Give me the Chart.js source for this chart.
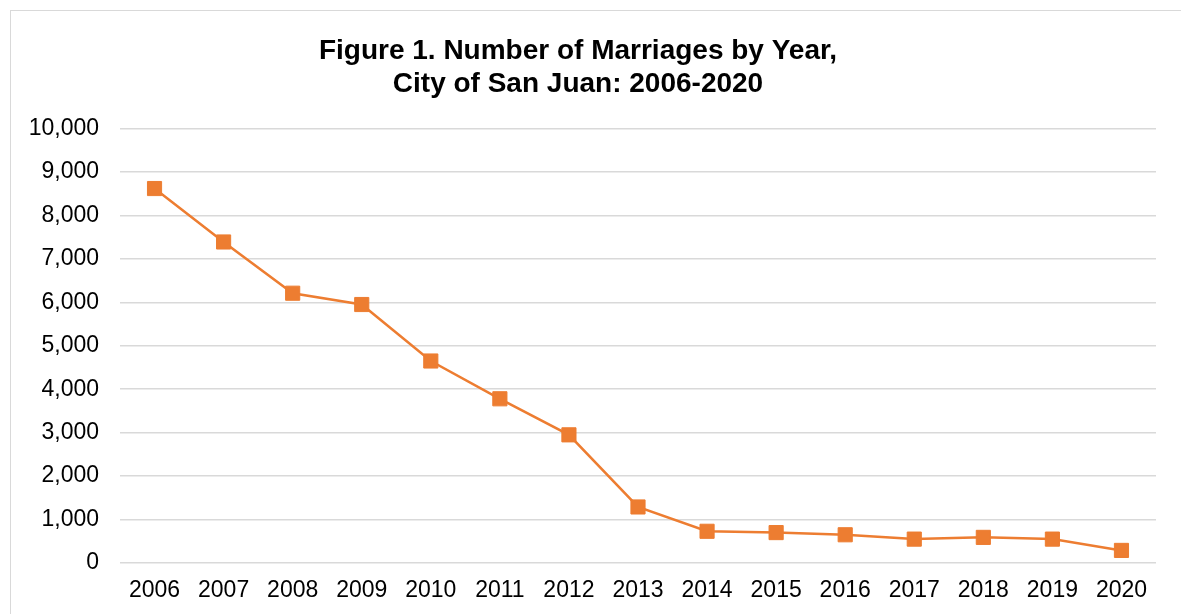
<!DOCTYPE html>
<html>
<head>
<meta charset="utf-8">
<script src="https://cdn.jsdelivr.net/npm/chart.js@4"></script>
<style>
    html, body { margin: 0; padding: 0; background: #fff; overflow: hidden; }
    #wrap { position: absolute; left: 0; top: 0; width: 1181px; height: 614px; }
    #frame { position: absolute; left: 10px; top: 10px; width: 1180px; height: 620px; border: 1.5px solid #d9d9d9; box-sizing: border-box; }
</style>
</head>
<body>
<div id="wrap">
    <div id="frame"></div>
    <canvas id="marriageChart" width="1181" height="614"></canvas>
</div>
<script>
var years = ['2006', '2007', '2008', '2009', '2010', '2011', '2012', '2013', '2014', '2015', '2016', '2017', '2018', '2019', '2020'];
var marriages = [8620, 7390, 6210, 5950, 4650, 3780, 2950, 1290, 730, 700, 650, 550, 590, 550, 290];
var titleLines = ['Figure 1. Number of Marriages by Year,', 'City of San Juan: 2006-2020'];
var yMin = 0;
var yMax = 10000;
var yStep = 1000;

document.addEventListener('DOMContentLoaded', function () {
    var ctx = document.getElementById('marriageChart').getContext('2d');
    var orange = '#ED7D31';
    var fontFamily = "'Liberation Sans', Arial, sans-serif";

    new Chart(ctx, {
        type: 'line',
        data: {
            labels: years,
            datasets: [{
                label: 'Marriages',
                data: marriages,
                borderColor: orange,
                backgroundColor: orange,
                borderWidth: 2.5,
                tension: 0,
                pointStyle: 'rect',
                pointRadius: 10,
                pointBorderWidth: 1,
                pointBorderColor: orange,
                pointBackgroundColor: orange
            }]
        },
        options: {
            responsive: false,
            animation: false,
            layout: {
                padding: { left: 0, right: 25, top: 0, bottom: 7 }
            },
            scales: {
                x: {
                    offset: true,
                    grid: { display: false, drawTicks: false },
                    border: { display: false },
                    afterFit: function (scale) { scale.height = 44; },
                    ticks: {
                        color: '#000',
                        padding: 14,
                        maxRotation: 0,
                        font: { family: fontFamily, size: 23 }
                    }
                },
                y: {
                    min: yMin,
                    max: yMax,
                    grid: { color: '#d9d9d9', lineWidth: 1.5, drawTicks: false },
                    border: { display: false },
                    afterFit: function (scale) { scale.width = 120; },
                    ticks: {
                        stepSize: yStep,
                        color: '#000',
                        padding: 21,
                        font: { family: fontFamily, size: 23 },
                        callback: function (v) { return v.toLocaleString('en-US'); }
                    }
                }
            },
            plugins: {
                legend: { display: false },
                tooltip: { enabled: false },
                title: {
                    display: true,
                    text: titleLines,
                    color: '#000',
                    font: { family: fontFamily, size: 28, weight: 'bold', lineHeight: 1.18 },
                    padding: { top: 35, bottom: 27.5 }
                }
            }
        }
    });
});
</script>
</body>
</html>
